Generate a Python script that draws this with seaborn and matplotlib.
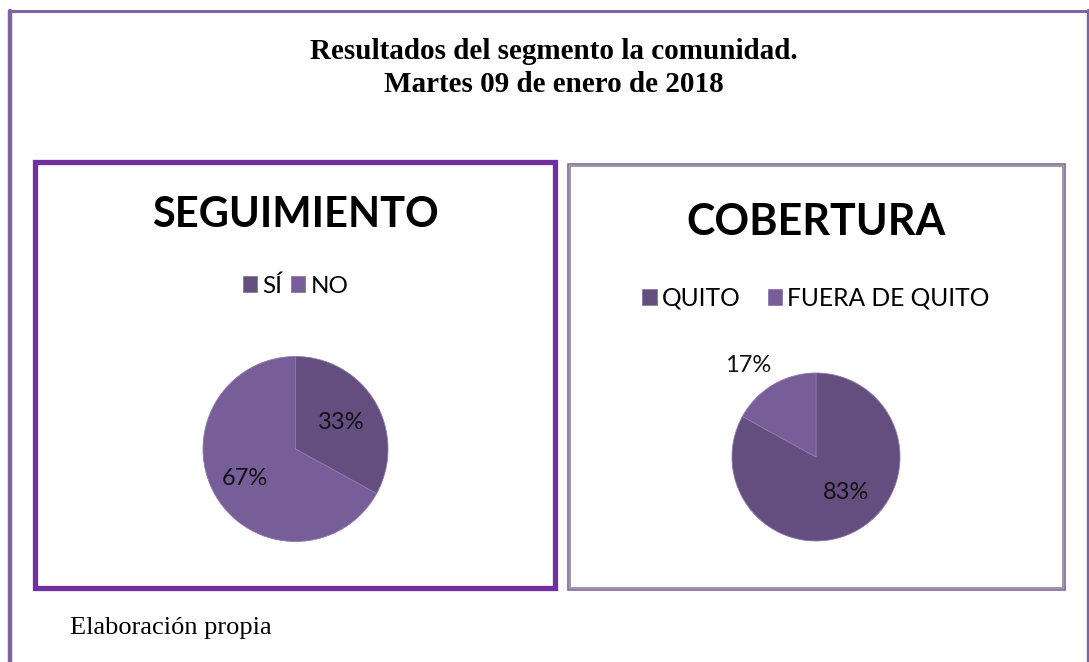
import numpy as np
import matplotlib
matplotlib.use("Agg")
import matplotlib.pyplot as plt
import seaborn as sns
from matplotlib.patches import Rectangle
from matplotlib.lines import Line2D

# ---------------- data ----------------
main_title = "Resultados del segmento la comunidad.\nMartes 09 de enero de 2018"
footer = "Elaboración propia"

seg_title = "SEGUIMIENTO"
seg_labels = ["SÍ", "NO"]
seg_values = [33, 67]

cob_title = "COBERTURA"
cob_labels = ["QUITO", "FUERA DE QUITO"]
cob_values = [83, 17]

dark_purple = "#634E7F"
light_purple = "#785E98"
palette = [dark_purple, light_purple]

# ---------------- style ----------------
sns.set_theme(style="white")
plt.rcParams["font.family"] = ["Lato", "DejaVu Sans"]
plt.rcParams["text.color"] = "black"

W, H = 1089, 662
fig = plt.figure(figsize=(W / 100, H / 100), dpi=100)
fig.patch.set_facecolor("white")


def fx(x):
    return x / W


def fy(y):
    return 1 - y / H


def frame_rect(x0, y0, x1, y1, color, lw):
    fig.patches.append(Rectangle((fx(x0), fy(y1)), fx(x1) - fx(x0), fy(y0) - fy(y1),
                                 transform=fig.transFigure, fill=False,
                                 edgecolor=color, linewidth=lw, joinstyle="miter"))


# outer page frame (left, top, right only)
outer_col = "#8064A2"
fig.lines.append(Line2D([fx(10), fx(10)], [fy(11), 0], transform=fig.transFigure,
                        color=outer_col, linewidth=3.2))
fig.lines.append(Line2D([fx(8.5), fx(1087.5)], [fy(11), fy(11)], transform=fig.transFigure,
                        color=outer_col, linewidth=2.2))
fig.lines.append(Line2D([fx(1087.5), fx(1087.5)], [fy(10), 0], transform=fig.transFigure,
                        color=outer_col, linewidth=2.4))

# panel boxes
frame_rect(34.5, 161.5, 554.5, 587.5, "#7030A0", 3.8)
frame_rect(567.5, 164.5, 1065, 590, "#8064A2", 1.2)
frame_rect(569.5, 166, 1063, 588, "#9A9A9A", 1.4)

# titles
fig.text(fx(554), fy(68), main_title, ha="center", va="center",
         fontsize=21, fontweight="bold", family=["Liberation Serif", "DejaVu Serif"],
         linespacing=1.28, color="black")
fig.text(fx(70), fy(628), footer, ha="left", va="center",
         fontsize=19, family=["Liberation Serif", "DejaVu Serif"], color="black")


def draw_pie(cx, cy, r, values, labels, title, title_y, legend_y, legend_fs,
             colsp, label_dists, label_shift, title_fs):
    ax = fig.add_axes([fx(cx - r), fy(cy + r), 2 * r / W, 2 * r / H])
    wedges, texts, autotexts = ax.pie(
        values, colors=palette, startangle=90, counterclock=False,
        autopct="%1.0f%%", pctdistance=0.6,
        wedgeprops=dict(edgecolor="#8C78A8", linewidth=0.6),
        textprops=dict(fontsize=17, color="#111111"))
    for w, t, d, s in zip(wedges, autotexts, label_dists, label_shift):
        mid = np.deg2rad((w.theta1 + w.theta2) / 2 + s)
        t.set_position((d * np.cos(mid), d * np.sin(mid)))
    ax.set_xlim(-1, 1)
    ax.set_ylim(-1, 1)
    ax.axis("off")
    fig.text(fx(cx), fy(title_y), title, ha="center", va="center",
             fontsize=title_fs, fontweight="bold", color="black")
    fig.legend(wedges, labels, loc="center", bbox_to_anchor=(fx(cx), fy(legend_y)),
               bbox_transform=fig.transFigure, ncol=2, frameon=False,
               fontsize=legend_fs, handlelength=0.6, handleheight=0.6,
               handletextpad=0.2, columnspacing=colsp, borderpad=0,
               labelcolor="black")
    return ax


draw_pie(295.5, 449, 92.5, seg_values, seg_labels, seg_title, 215, 286, 17.5, 0.35,
         [0.57, 0.63], [0, 0], 30)
draw_pie(816, 457, 84, cob_values, cob_labels, cob_title, 222, 298, 17.7, 1.1,
         [0.55, 1.36], [10, 6], 31)

fig.savefig("out.png", dpi=100, facecolor="white")
